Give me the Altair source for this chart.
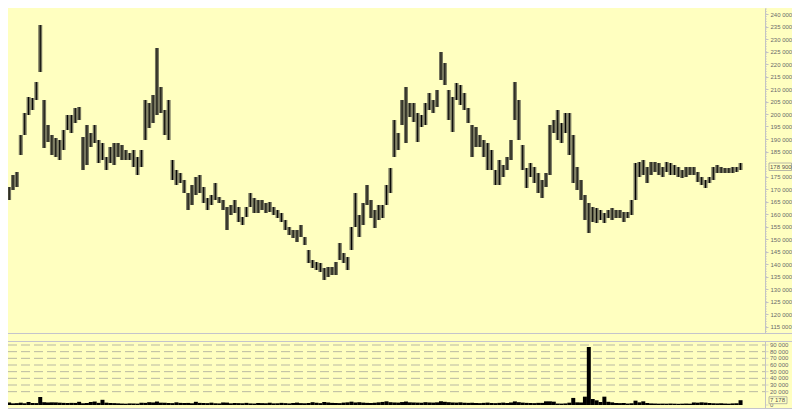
import altair as alt
import pandas as pd

# ---- data (one bar per ~4 px) ----
high = [171600,170800,175600,176800,191600,200400,206800,206400,212800,235600,
        205600,195600,191600,190400,189600,193600,199600,199600,202400,202800,
        190800,195600,192400,195600,189600,188400,182800,186800,188400,188400,
        187600,185600,184400,185600,182800,185600,205600,204400,207600,226400,
        210800,201600,205600,181600,177600,176400,173600,168400,171600,174800,
        175600,170800,166400,167600,172400,166800,165600,162800,163600,165600,
        162800,158800,162800,168400,166400,165600,165600,164400,164800,162800,
        161600,160400,157600,154800,153600,153600,155600,150800,145600,141600,
        140800,140400,138400,138800,138800,140800,148400,144400,142800,154800,
        168400,159600,164400,171600,165600,161600,163600,163600,171600,178400,
        197600,192400,205600,210800,204400,204400,200400,199600,204400,208400,
        205600,209600,224800,220400,209600,206800,212400,211600,208400,202400,
        195600,194800,191600,189600,188400,185600,177600,181600,179600,182800,
        189600,212800,205600,187600,178400,180400,178800,176400,173600,176400,
        195600,197600,201600,196400,200400,200400,191600,178800,173600,167600,
        164400,162800,162400,161600,160400,161600,162400,161600,161600,160800,
        160800,165600,180400,180800,181600,178800,180800,180800,180400,178800,
        180800,180400,179600,178800,177600,178800,178800,178800,176800,174800,
        173600,174800,178800,179600,178800,178400,178400,178800,178800,180400]

low = [164400,165600,169600,170800,183600,191600,199600,201600,205600,216800,
       186400,188800,183600,182800,181600,185600,193600,192400,196400,197600,
       177600,179600,186800,188400,180400,181600,177600,180400,179600,182800,
       181600,181600,181600,178800,175600,178800,189600,194400,196400,199600,
       200400,191600,189600,173600,171600,172400,168400,161600,163600,167600,
       168400,164400,161600,163600,165600,164400,161600,153600,159600,160400,
       156800,155600,158800,162800,160400,160400,161600,160400,160800,159600,
       158400,156800,153600,151600,150400,148800,150800,147600,140400,138400,
       137600,136800,133600,134800,135600,135600,141600,140400,137600,145600,
       154800,150800,155600,163600,158400,154400,157600,158400,163600,168400,
       182800,185600,195600,188400,198800,196800,188800,194800,195600,201600,
       200400,202800,213600,211600,197600,192800,205600,203600,201600,196400,
       182800,186800,186800,182800,177600,177600,171600,171600,174800,177600,
       181600,197600,189600,177600,170400,174800,172400,168400,166400,170800,
       175600,192400,189600,188400,192400,183600,172400,169600,165600,157600,
       152400,156800,156400,157600,156400,158400,157600,158400,158400,156800,
       158400,159600,165600,174800,175600,172400,175600,176800,175600,174800,
       176800,175600,175600,174800,174400,174800,175600,175600,172800,171600,
       170400,172400,173600,176400,176400,176400,176400,176400,176800,177600]

volume = [4000,3800,2500,2800,3500,2600,4500,3000,2900,12000,
          4200,3800,4000,3900,3500,3200,3000,3200,3100,4800,
          2600,3000,4500,5200,3200,7800,3500,3000,2800,2500,
          2200,2000,2400,2300,2100,3400,3200,4200,3800,5200,
          3500,3400,3000,2800,4000,3200,3000,3100,2600,4800,
          3200,3000,2800,3500,2600,2400,3800,3600,2500,3000,
          2800,2600,3200,2400,2200,3000,2800,2600,3400,2500,
          2600,3200,2800,2400,3000,3600,2800,2600,3000,4200,
          3400,2800,4500,3800,3200,3000,2800,3600,4000,5000,
          3800,4200,3600,3200,3000,3400,4000,4600,5500,4200,
          3800,3600,4400,5200,4000,3800,3600,3400,4200,3800,
          3600,4000,5600,4800,4200,3800,3600,4000,3400,3200,
          3400,3000,2800,3200,3600,3000,2800,3200,3600,3000,
          3800,5400,4200,3600,3200,3000,2800,3200,3200,5500,
          5500,5000,2200,2100,2400,3500,10600,4000,3800,12500,
          87000,9000,7000,4500,12500,4800,4000,3000,2800,3000,
          2200,2600,6500,4000,5500,3000,2400,2200,2000,2100,
          2000,2200,2000,1800,2000,2200,2000,3800,3500,4000,
          3600,3000,2600,2400,2600,2200,2000,2400,2600,7178]

price_ticks = [115000, 120000, 125000, 130000, 135000, 140000, 145000, 150000,
               155000, 160000, 165000, 170000, 175000, 185000, 190000, 195000,
               200000, 205000, 210000, 215000, 220000, 225000, 230000, 235000, 240000]
minor_ticks = list(range(113000, 242001, 1000))
vol_ticks = [0, 20000, 30000, 40000, 50000, 60000, 70000, 80000, 90000]
vol_grid = [20000, 30000, 40000, 50000, 60000, 70000, 80000, 90000]
last_price = 178900
last_volume = 7178

df = pd.DataFrame({"i": list(range(len(high))), "high": high, "low": low, "volume": volume})

BG = "#ffffc0"
W = 757          # plot width (page x 8 .. 765), leaves room for full labels
RIGHT = 27       # room for the right-hand labels
H = 401          # whole chart height (page y 8 .. 409)
P_BOTTOM = 325   # price panel bottom (page y 333)
V_TOP = 333      # volume panel top (page y 341)
FONT = "Liberation Sans"
LBL = "replace(format(datum.value, ','), regexp(',', 'g'), ' ')"
LINE = "#c4c4cc"
AX = "#c4c4c4"
TXT = "#6a6a6a"

xenc = alt.X("i:Q", scale=alt.Scale(domain=[2, 194], nice=False, zero=False), axis=None)

pscale = alt.Scale(domain=[112400, 242400], range=[P_BOTTOM, 0], nice=False, zero=False)
paxis = alt.Axis(orient="right", values=price_ticks, labelExpr=LBL, labelFontSize=6,
                 labelFont=FONT, labelColor=TXT, domainColor=AX,
                 tickColor=AX, tickSize=3, labelPadding=2, grid=False, title=None)

vscale = alt.Scale(domain=[-6000, 96000], range=[H, V_TOP], nice=False, zero=False)


def py(field, axis=None):
    return alt.Y(field, scale=pscale, axis=axis)


def vy(field):
    return alt.Y(field, scale=vscale, axis=None)


one = pd.DataFrame({"a": [0]})

# ---- price panel ----
bars = alt.Chart(df).mark_bar(size=4, color="#76765e", clip=True).encode(
    x=xenc, y=py("high:Q", paxis), y2="low:Q")
rules = alt.Chart(df).mark_rule(color="black", strokeWidth=1, clip=True).encode(
    x=xenc, y=py("high:Q"), y2="low:Q")
minor = alt.Chart(pd.DataFrame({"m": minor_ticks})).mark_tick(
    size=2, thickness=1, color=AX).encode(x=alt.value(W + 1), y=py("m:Q"))

lp = pd.DataFrame({"p": [last_price]})
pbox = alt.Chart(lp).transform_calculate(
    top="datum.p + 1500", bot="datum.p - 1500").mark_rect(
    fill=BG, stroke="#9a9a9a", strokeWidth=0.7).encode(
    x=alt.value(W + 4), x2=alt.value(W + RIGHT - 0.5), y=py("top:Q"), y2="bot:Q")
ptxt = alt.Chart(lp).transform_calculate(
    lab="replace(format(datum.p, ','), regexp(',', 'g'), ' ')").mark_text(
    align="left", baseline="middle", fontSize=6, font=FONT, color="#555555").encode(
    x=alt.value(W + 5), y=py("p:Q"), text="lab:N")

pborder = alt.Chart(one).mark_rule(color=LINE, strokeWidth=1).encode(
    x=alt.value(-8), x2=alt.value(W + RIGHT), y=alt.value(P_BOTTOM + 0.5))

# ---- volume panel ----
grid = alt.Chart(pd.DataFrame({"g": vol_grid})).mark_rule(
    color="#b9b9a2", strokeWidth=1, strokeDash=[9, 4]).encode(
    x=alt.value(0), x2=alt.value(W), y=vy("g:Q"))
vbars = alt.Chart(df).mark_bar(size=4, color="black", clip=True).encode(
    x=xenc, y=vy("volume:Q"), y2=alt.datum(0))

vdomain = alt.Chart(one).mark_rule(color=AX, strokeWidth=1).encode(
    x=alt.value(W + 0.5), y=alt.value(V_TOP), y2=alt.value(H))
vticks = alt.Chart(pd.DataFrame({"t": vol_ticks})).mark_tick(
    size=3, thickness=1, color=AX).encode(x=alt.value(W + 2), y=vy("t:Q"))
vlabels = alt.Chart(pd.DataFrame({"t": vol_ticks})).transform_calculate(
    lab="replace(format(datum.t, ','), regexp(',', 'g'), ' ')").mark_text(
    align="left", baseline="middle", fontSize=6, font=FONT, color=TXT).encode(
    x=alt.value(W + 5), y=vy("t:Q"), text="lab:N")

lv = pd.DataFrame({"v": [last_volume]})
vbox = alt.Chart(lv).transform_calculate(
    top="datum.v + 5200", bot="datum.v - 5200").mark_rect(
    fill=BG, stroke="#9a9a9a", strokeWidth=0.7).encode(
    x=alt.value(W + 4), x2=alt.value(W + 22), y=vy("top:Q"), y2="bot:Q")
vtxt = alt.Chart(lv).transform_calculate(
    lab="replace(format(datum.v, ','), regexp(',', 'g'), ' ')").mark_text(
    align="left", baseline="middle", fontSize=6, font=FONT, color="#555555").encode(
    x=alt.value(W + 5), y=vy("v:Q"), text="lab:N")

vtop = alt.Chart(one).mark_rule(color=LINE, strokeWidth=1).encode(
    x=alt.value(-8), x2=alt.value(W + RIGHT), y=alt.value(V_TOP + 0.5))
vbot = alt.Chart(one).mark_rule(color=LINE, strokeWidth=1).encode(
    x=alt.value(-8), x2=alt.value(W + RIGHT), y=alt.value(H - 0.5))

chart = alt.layer(
    bars, rules, minor, pborder, pbox, ptxt,
    grid, vbars, vdomain, vticks, vlabels, vtop, vbot, vbox, vtxt,
).resolve_scale(y="independent").properties(
    width=W, height=H,
    autosize=alt.AutoSizeParams(type="none"),
    padding={"left": 0, "top": 0, "right": RIGHT, "bottom": 0},
).configure(background=BG).configure_view(strokeWidth=0, fill=BG)

chart.save("out.html", embed_options={"renderer": "svg", "actions": False})
